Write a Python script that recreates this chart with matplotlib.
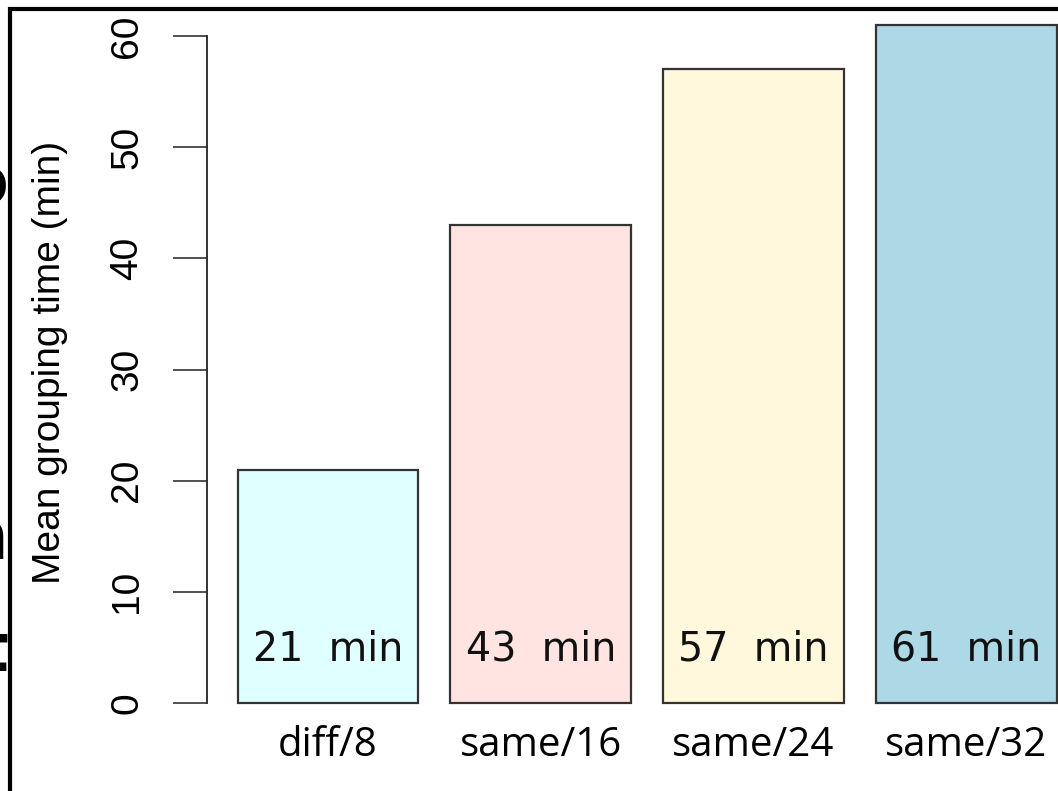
import matplotlib.pyplot as plt
from matplotlib.patches import Rectangle

# data
groups = ['diff/8', 'same/16', 'same/24', 'same/32']
mean_time = [21, 43, 57, 61]  # minutes
bar_colors = ['#E0FFFF', '#FFE4E1', '#FFF8DC', '#ADD8E6']
y_ticks = [0, 10, 20, 30, 40, 50, 60]

W, H = 1058, 791
fig = plt.figure(figsize=(W / 100, H / 100), dpi=100)

# axes placed in pixels: y=0 at 703px, y=60 at 36px, left spine at 207px
ax = fig.add_axes([207 / W, 1 - 703 / H, (W - 207) / W, (703 - 36) / H])
x = list(range(len(groups)))
bars = ax.bar(x, mean_time, width=0.85, color=bar_colors, edgecolor='#333333',
              linewidth=1.6, clip_on=False, zorder=2)
ax.set_xlim(-0.569, 3.432)
ax.set_ylim(0, 60)

for s in ['top', 'right', 'bottom']:
    ax.spines[s].set_visible(False)
ax.spines['left'].set_color('#222222')
ax.spines['left'].set_linewidth(1.3)
ax.spines['left'].set_bounds(0, 60)

ax.set_yticks(y_ticks)
ax.set_yticklabels([str(t) for t in y_ticks], rotation=90, va='center',
                   family='Liberation Sans', fontsize=28)
ax.tick_params(axis='y', length=24.5, width=1.1, color='#222222', pad=20)

ax.set_xticks(x)
ax.set_xticklabels(groups, family='Open Sans', fontsize=29)
ax.tick_params(axis='x', length=0, pad=16)

# value labels inside the bars
for xi, v in zip(x, mean_time):
    ax.text(xi, 4.8, f'{v}  min', ha='center', va='center',
            family='DejaVu Sans', fontsize=28.5, color='#111111', zorder=3)

fig.text(50 / W, 1 - 362 / H, 'Mean grouping time (min)', rotation=90,
         ha='center', va='center', family='Liberation Sans', fontsize=28)

# cut-off slide text on the far left
for ch, yp in [('o', 185), ('h', 540), ('t', 652)]:
    fig.text(8 / W, 1 - yp / H, ch, ha='right', va='center',
             fontsize=48, fontweight='bold', family='DejaVu Sans')

# slide frame (only left and top edges inside the image)
fig.patches.append(Rectangle((10 / W, -0.1), 1.2, 1 - 9 / H + 0.1,
                             transform=fig.transFigure, fill=False,
                             edgecolor='black', linewidth=3))

fig.savefig('out.png', dpi=100)
